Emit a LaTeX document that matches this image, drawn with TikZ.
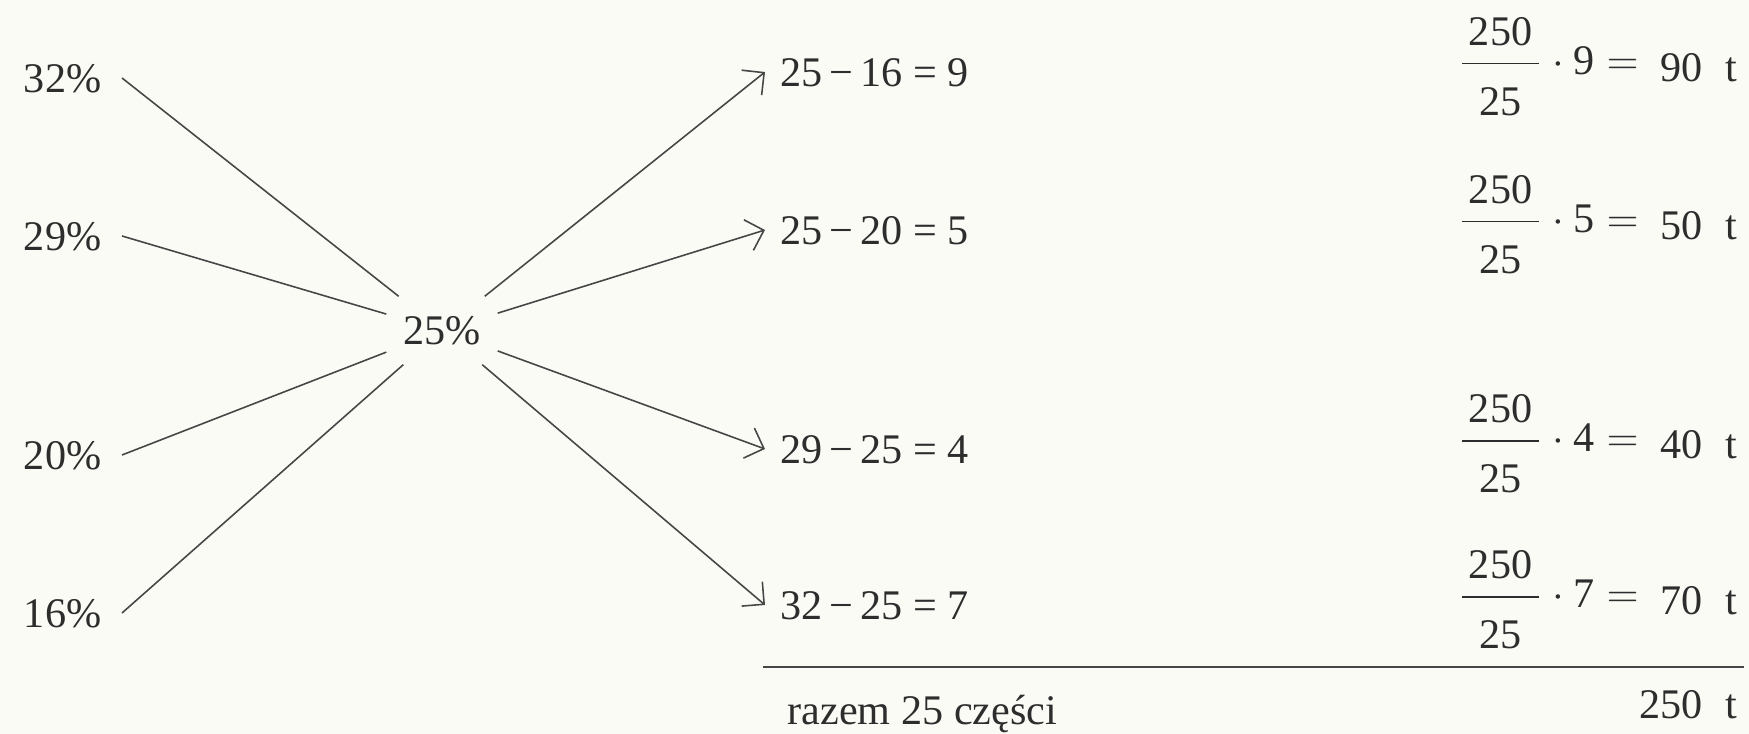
\documentclass[tikz,border=0pt]{standalone}
\usepackage{amsmath}
\usepackage{fontspec}
\setmainfont{Liberation Serif}
\usetikzlibrary{arrows.meta,positioning}
\definecolor{inkgray}{RGB}{45,45,45}
\definecolor{linegray}{RGB}{70,70,70}
\definecolor{papercream}{RGB}{251,251,246}
\newcommand{\ulamek}[1]{$\dfrac{\text{\,250\,}}{\rule{0pt}{1.1em}\text{25}}\cdot\text{#1} =$}

\begin{document}
\begin{tikzpicture}[x=1cm,y=-1cm,>={Straight Barb[length=1.6mm,width=3.2mm]},
  every node/.style={text=inkgray,font=\fontsize{12}{14}\selectfont},
  pct/.style={anchor=east,inner sep=0.2cm,text height=0.29cm,text depth=0pt},
  roznica/.style={anchor=west,inner sep=0.15cm,text height=0.29cm,text depth=0pt},
  wynik/.style={anchor=east,inner sep=0pt,text height=0.29cm,text depth=0pt},
  kreska/.style={draw=linegray,line width=0.45pt}]
  \fill[papercream] (0,0) rectangle (17.49,7.34);
  \foreach \p/\y in {32/0.78,29/2.36,20/4.55,16/6.13}
    \node[pct] (p\p) at (1.22,\y) {\p\%};
  \node[minimum width=1.1cm,minimum height=0.67cm,inner sep=0pt,text height=0.29cm,text depth=0pt] (c) at (4.42,3.305) {25\%};
  \foreach \p in {32,29,20,16}
    \draw[kreska] (p\p.east) -- (c);
  \foreach \n/\y/\odj/\mn/\k/\w in {1/0.72/25/16/9/90,2/2.30/25/20/5/50,3/4.49/29/25/4/40,4/6.05/32/25/7/70}{
    \node[roznica] (d\n) at (7.65,\y) {\odj\,−\,\mn\ =\ \k};
    \draw[kreska,->] (c) -- (d\n.west);
    \node[anchor=west,inner sep=0.05cm] (f\n) at (14.52,\y-0.05) {\ulamek{\k}};
    \node[wynik] (w\n) at (17.38,\y-0.05) {\w\hspace{0.55em}t};
  }
  \coordinate (kl) at (7.63,6.67);
  \coordinate (kp) at (17.44,6.67);
  \draw[kreska] (kl) -- (kp);
  \node[anchor=west,inner sep=0pt,text height=0.29cm,text depth=0pt] (razem) at (7.87,7.10) {razem 25 części};
  \node[wynik] (suma) at (17.38,7.04) {250\hspace{0.55em}t};
\end{tikzpicture}
\end{document}
